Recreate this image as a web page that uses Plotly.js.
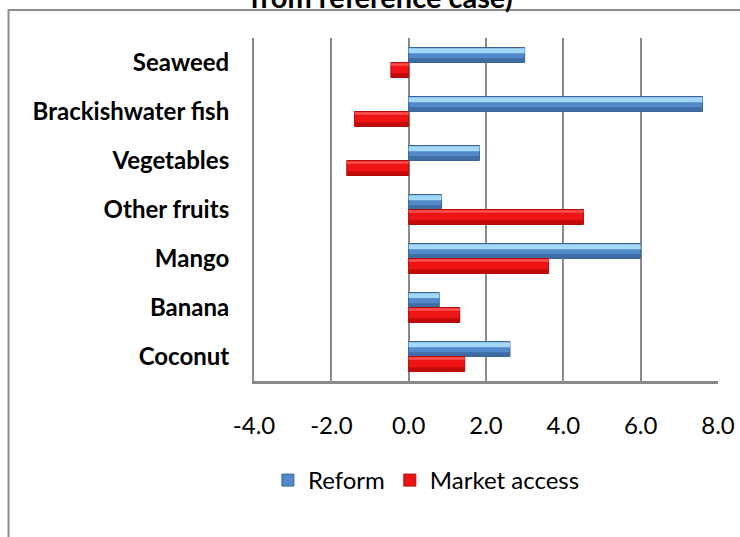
<!DOCTYPE html>
<html>
<head>
<meta charset="utf-8">
<script src="https://cdn.plot.ly/plotly-3.0.1.min.js"></script>
<style>
html,body{margin:0;padding:0;background:#fff;}
#chart{width:740px;height:537px;}
</style>
</head>
<body>
<div id="chart"></div>
<script>
const categories = ['Seaweed','Brackishwater fish','Vegetables','Other fruits','Mango','Banana','Coconut'];
const reform = [3.0, 7.6, 1.83, 0.85, 6.0, 0.79, 2.62];
const marketAccess = [-0.46, -1.4, -1.6, 4.52, 3.62, 1.32, 1.45];
const seriesNames = ['Reform','Market access'];
const tickValues = [-4, -2, 0, 2, 4, 6, 8];
const titleText = 'from reference case)';

const W = 0.306;
function band(x, offset, width, color) {
  return {type:'bar', orientation:'h', showlegend:false, y:categories, x:x,
          offset:offset, width:width, marker:{color:color, line:{width:0}}, hoverinfo:'skip'};
}
const traces = [
  {type:'bar', orientation:'h', name:seriesNames[0], y:categories, x:reform,
   offset:-W, width:W, marker:{color:'#5189cb', line:{color:'#3a6396', width:1}}, hoverinfo:'x'},
  band(reform, -W+0.015, 0.1, '#a4d8f8'),
  band(reform, -0.085, 0.075, '#3f6ca2'),
  {type:'bar', orientation:'h', name:seriesNames[1], y:categories, x:marketAccess,
   offset:0, width:W, marker:{color:'#ee1414', line:{color:'#b40a0a', width:1}}, hoverinfo:'x'},
  band(marketAccess, 0.015, 0.05, '#ff5252'),
  band(marketAccess, W-0.085, 0.075, '#c20909')
];

const layout = {
  width:740, height:537,
  margin:{l:254, r:22, t:38, b:156},
  paper_bgcolor:'#ffffff', plot_bgcolor:'#ffffff',
  font:{family:'Lato, "Open Sans", sans-serif', color:'#000', size:24},
  barmode:'overlay',
  showlegend:true,
  legend:{orientation:'h', x:0.03, xanchor:'left', y:-0.29, yanchor:'middle',
          font:{size:24, family:'Lato, sans-serif', color:'#000'}, traceorder:'normal', bgcolor:'rgba(0,0,0,0)'},
  xaxis:{range:[-4,8], tickvals:tickValues, ticktext:tickValues.map(v=>v.toFixed(1)),
         showgrid:true, gridcolor:'#8a8a8a', gridwidth:2,
         zeroline:true, zerolinecolor:'#8a8a8a', zerolinewidth:2,
         showline:true, linecolor:'#8a8a8a', linewidth:3, mirror:false,
         ticks:'', ticklabelstandoff:21, tickfont:{size:24, family:'Lato, sans-serif'}, fixedrange:true},
  yaxis:{type:'category', categoryorder:'array', categoryarray:categories, autorange:'reversed',
         showgrid:false, zeroline:false, showline:true, linecolor:'#8a8a8a', linewidth:2,
         ticks:'', ticklabelstandoff:18,
         tickfont:{size:24, family:'Lato, sans-serif', weight:'bold'}, fixedrange:true},
  shapes:[
    {type:'rect', xref:'paper', yref:'paper', x0:-0.529, x1:1.2, y0:-0.6, y1:1.0816,
     line:{color:'#8c8c8c', width:2}, fillcolor:'rgba(0,0,0,0)', layer:'below'}
  ],
  annotations:[
    {text:titleText, xref:'paper', yref:'paper', x:0.274, y:1.12, xanchor:'center', yanchor:'middle',
     showarrow:false, font:{size:29, family:'Lato, sans-serif', weight:'bold', color:'#000'}}
  ]
};

Plotly.newPlot('chart', traces, layout, {displayModeBar:false, staticPlot:true});
</script>
</body>
</html>
